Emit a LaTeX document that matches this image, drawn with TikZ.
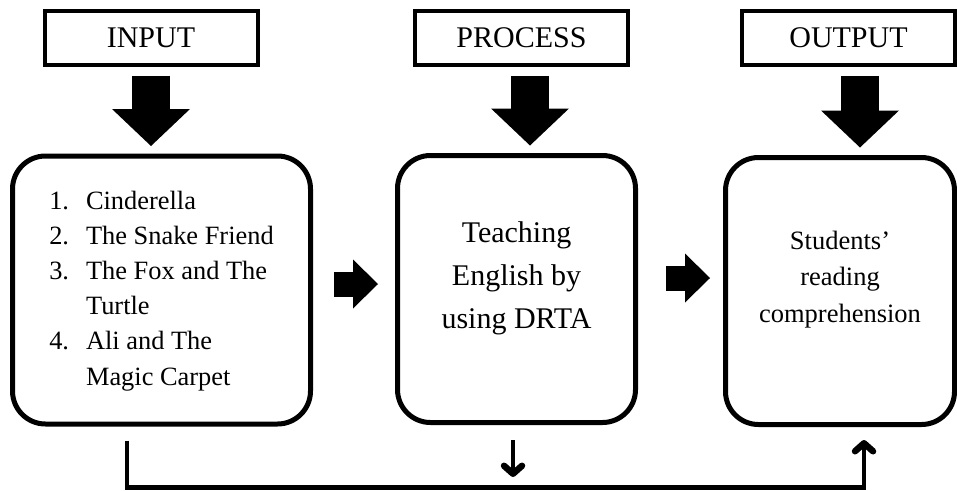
\documentclass[tikz,border=0pt]{standalone}
\usepackage{fontspec}
\setmainfont{Liberation Serif}
\usepackage{tikz}
\usetikzlibrary{arrows.meta}
\usetikzlibrary{calc}
\usetikzlibrary{positioning}

\begin{document}
\begin{tikzpicture}[x=1pt,y=-1pt]
 \tikzstyle{head}=[draw=black, line width=4pt, outer sep=0pt, minimum width=213pt, minimum height=54pt, font=\fontsize{30}{36}\selectfont]
 \tikzstyle{stage}=[draw=black, line width=5pt, rounded corners=33pt, outer sep=0pt]
 \tikzstyle{vblock}=[line width=38pt, -{Triangle[length=37pt,width=78pt,line width=0pt]}, shorten <=11pt, shorten >=10pt]
 \tikzstyle{hblock}=[line width=25pt, -{Triangle[length=25pt,width=49pt,line width=0pt]}]
 \tikzstyle{feed}=[line width=4.5pt, -{Straight Barb[length=8pt,width=18pt,line width=6.5pt,round]}]

 \useasboundingbox (0,0) rectangle (957,490);

 \node[head] (in)  at (151,37.5)   {INPUT};
 \node[head] (pro) at (521.5,37.5) {PROCESS};
 \node[head] (out) at (848.5,37.5) {OUTPUT};

 \node[stage, minimum width=298pt, minimum height=268pt, font=\fontsize{26.4}{35.2}\selectfont] (inbox) at (161.5,290)
   {\begin{tabular}{@{}l@{\hspace{17pt}}l@{}}
    1. & Cinderella\\
    2. & The Snake Friend\\
    3. & The Fox and The\\
       & Turtle\\
    4. & Ali and The\\
       & Magic Carpet
    \end{tabular}};
 \node[stage, minimum width=238pt, minimum height=267pt] (probox) at (516.5,289) {};
 \node[stage, minimum width=229pt, minimum height=267pt] (outbox) at (840,291) {};

 \node[align=center, font=\fontsize{30}{43}\selectfont] (protxt) at ([yshift=11pt]probox.center) {Teaching\\English by\\using DRTA};
 \node[align=center, font=\fontsize{26.5}{36.5}\selectfont] (outtxt) at ([yshift=11.5pt]outbox.center) {Students’\\reading\\comprehension};

 \path
   (in.south) edge[vblock] (in.south |- inbox.north)
   ([xshift=8.5pt]pro.south) edge[vblock] ([xshift=8.5pt]pro.south |- probox.north)
   ([xshift=11.5pt]out.south) edge[vblock] ([xshift=11.5pt]out.south |- outbox.north)
   ([yshift=6pt]inbox.east) edge[hblock, shorten <=23.5pt, shorten >=19.5pt] ([yshift=6pt]inbox.east -| probox.west)
   ([yshift=11pt]probox.east) edge[hblock, shorten <=30.5pt, shorten >=15.5pt] ([yshift=11pt]probox.east -| outbox.west);

 \draw[feed] ([shift={(-34.5,16.5)}]inbox.south) -- ++(0,47) -| ([shift={(24,15.5)}]outbox.south);
 \draw[feed] ([shift={(-3.5,17.5)}]probox.south) -- ++(0,37);
\end{tikzpicture}
\end{document}
